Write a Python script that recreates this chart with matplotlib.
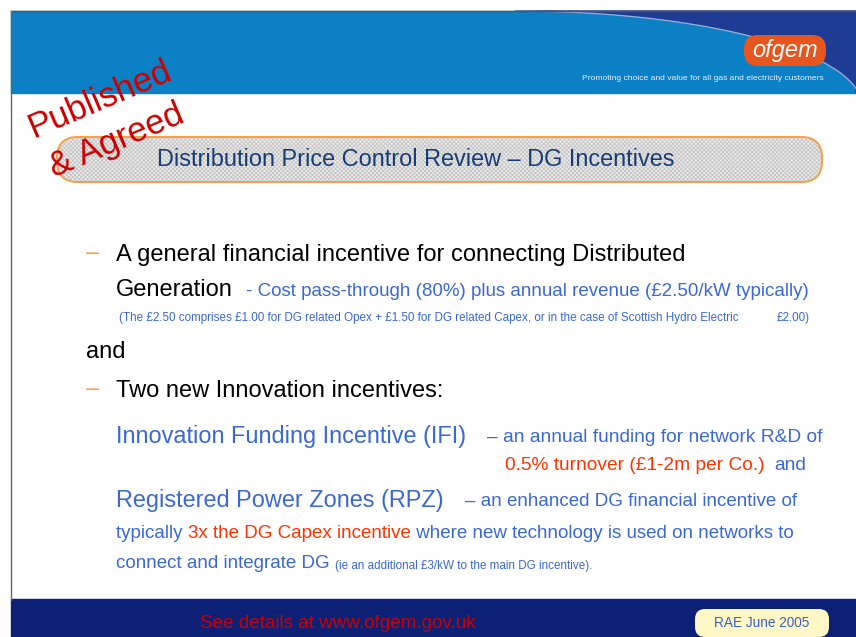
import numpy as np
import matplotlib
matplotlib.use("Agg")
import matplotlib.pyplot as plt
from matplotlib.patches import FancyBboxPatch, Rectangle, Polygon

# slide text
title = "Distribution Price Control Review \u2013 DG Incentives"
stamp = ["Published", "& Agreed"]
bullet1 = "A general financial incentive for connecting Distributed"
line2 = ["Generation", "- Cost pass-through (80%) plus annual revenue (\u00a32.50/kW typically)"]
note1 = ["(The \u00a32.50 comprises \u00a31.00 for DG related Opex + \u00a31.50 for DG related Capex, "
         "or in the case of Scottish Hydro Electric", "\u00a32.00)"]
joiner = "and"
bullet2 = "Two new Innovation incentives:"
ifi = ["Innovation Funding Incentive (IFI)", "\u2013 an annual funding for network R&D of"]
ifi2 = ["0.5% turnover (\u00a31-2m per Co.)", "and"]
rpz = ["Registered Power Zones (RPZ)", "\u2013 an enhanced DG financial incentive of"]
rpz2 = ["typically ", "3x the DG Capex incentive", " where new technology is used on networks to"]
rpz3 = ["connect and integrate DG ", "(ie an additional \u00a33/kW to the main DG incentive)."]
footer = "See details at www.ofgem.gov.uk"
date_tag = "RAE June 2005"
logo = "ofgem"
tagline = "Promoting choice and value for all gas and electricity customers"

FONT = "Liberation Sans"
plt.rcParams["hatch.linewidth"] = 0.6

BLACK = "#000000"
BLUE = "#3a68d4"
RED = "#ff3300"
ORANGE = "#f5a04a"

W, H = 856, 637
fig = plt.figure(figsize=(W / 100, H / 100), dpi=100)
ax = fig.add_axes([0, 0, 1, 1])
ax.set_xlim(0, W)
ax.set_ylim(H, 0)
ax.axis("off")
renderer = fig.canvas.get_renderer()


def put(x, y, s, color, size, **kw):
    t = ax.text(x, y, s, color=color, fontsize=size, family=FONT,
                va="center", ha="left", **kw)
    bb = t.get_window_extent(renderer=renderer)
    return ax.transData.inverted().transform((bb.x1, 0))[0]


# header band
ax.add_patch(Rectangle((11, 11), W - 11, 82, color="#0b80c5", zorder=1))
xs = np.linspace(515, 862, 200)
ys = 11 + 95 * (1 - np.sqrt(np.clip(1 - ((xs - 515) / 347) ** 2, 0, 1)))
ys = np.minimum(ys, 93)
navy = np.vstack([np.column_stack([xs, ys]), [[W, 93], [W, 11], [515, 11]]])
ax.add_patch(Polygon(navy, closed=True, color="#1f3c94", zorder=2))
ax.plot(xs[ys < 93], ys[ys < 93], color="#a9cdee", lw=1.0, alpha=0.8, zorder=3)
ax.plot([11, W], [11, 11], color="#555555", lw=1, zorder=4)
ax.plot([11, 11], [11, 600], color="#666666", lw=1, zorder=4)

# logo
ax.add_patch(FancyBboxPatch((744, 35), 82, 31, boxstyle="round,pad=0,rounding_size=14",
                            fc="#e8561f", ec="none", zorder=5))
ax.text(785, 50, logo, color="white", fontsize=17, family=FONT, style="italic",
        ha="center", va="center", zorder=6)
ax.text(824, 78, tagline, color="#e8f0fa", fontsize=6.1, family=FONT,
        ha="right", va="center", zorder=6)

# title pill
ax.add_patch(FancyBboxPatch((57, 137), 765, 45, boxstyle="round,pad=0,rounding_size=21",
                            fc="#ececec", ec=ORANGE, lw=1.5, zorder=5))
ax.add_patch(FancyBboxPatch((58, 138), 763, 43, boxstyle="round,pad=0,rounding_size=20",
                            fc="none", ec="#c4c4c4", lw=0, hatch="xxxxxxxx", zorder=5))
ax.text(416, 160, title, color="#173c78", fontsize=16.9, family=FONT,
        ha="center", va="center", zorder=6)

# stamp
ax.text(100, 99, stamp[0], color="#cc0000", fontsize=25, family=FONT, rotation=23,
        ha="center", va="center", zorder=8, rotation_mode="anchor")
ax.text(116, 141, stamp[1], color="#cc0000", fontsize=25, family=FONT, rotation=23,
        ha="center", va="center", zorder=8, rotation_mode="anchor")

# body
put(86, 253, "\u2013", ORANGE, 17)
put(116, 255, bullet1, BLACK, 17)
put(116, 290, line2[0], BLACK, 17)
put(246, 291, line2[1], BLUE, 13.5)
put(119, 318, note1[0], BLUE, 8.4)
put(777, 318, note1[1], BLUE, 8.4)
put(86, 352, joiner, BLACK, 17)
put(86, 389, "\u2013", ORANGE, 17)
put(116, 391, bullet2, BLACK, 17)
put(116, 436, ifi[0], BLUE, 16.9)
put(487, 437, ifi[1], BLUE, 13.8)
x = put(505, 465, ifi2[0], RED, 13.8)
put(x + 10, 465, ifi2[1], BLUE, 13.8)
put(116, 500, rpz[0], BLUE, 16.9)
put(465, 501, rpz[1], BLUE, 13.5)
x = put(116, 533, rpz2[0], BLUE, 13.5)
x = put(x, 533, rpz2[1], RED, 13.5)
put(x, 533, rpz2[2], BLUE, 13.5)
x = put(116, 564, rpz3[0], BLUE, 13.5)
put(x, 566, rpz3[1], BLUE, 8.4)

# footer
ax.add_patch(Rectangle((11, 599), W - 11, 40, color="#0c2075", zorder=1))
ax.text(200, 624, footer, color="#cc0000", fontsize=13.6, family=FONT,
        ha="left", va="center", zorder=3)
ax.add_patch(FancyBboxPatch((695, 609), 134, 28, boxstyle="round,pad=0,rounding_size=10",
                            fc="#fff8c6", ec="none", zorder=3))
ax.text(762, 623, date_tag, color="#3a5fc8", fontsize=9.8, family=FONT,
        ha="center", va="center", zorder=4)

fig.savefig("out.png", dpi=100)
